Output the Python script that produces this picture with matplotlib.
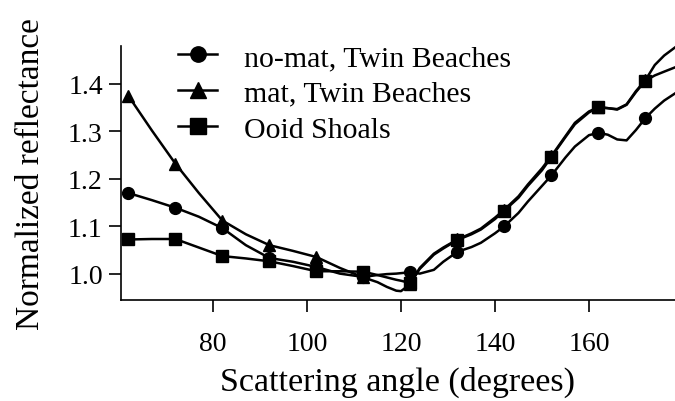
import numpy as np
import matplotlib
matplotlib.use("Agg")
import matplotlib.pyplot as plt

plt.rcParams["font.family"] = ["Liberation Serif", "DejaVu Serif"]

angle = [62, 67, 72, 77, 82, 87, 92, 97, 102, 107, 112, 115, 117, 119, 120,
         122, 124, 127, 129, 132, 135, 137, 140, 142, 145, 147, 150, 152,
         155, 157, 160, 162, 164, 166, 168, 170, 172, 174, 176, 178.3]
marker_angles = [62, 72, 82, 92, 102, 112, 122, 132, 142, 152, 162, 172]

nomat = [1.170, 1.155, 1.139, 1.120, 1.096, 1.060, 1.033, 1.025, 1.014, 1.000,
         0.993, 0.997, 0.999, 1.000, 1.001, 1.003, 1.000, 1.008, 1.025, 1.046,
         1.056, 1.065, 1.085, 1.100, 1.128, 1.152, 1.185, 1.207, 1.245, 1.268,
         1.292, 1.297, 1.293, 1.283, 1.281, 1.303, 1.328, 1.348, 1.365, 1.380]
mat = [1.375, 1.302, 1.232, 1.170, 1.112, 1.083, 1.060, 1.048, 1.035, 1.012,
       0.992, 0.982, 0.972, 0.964, 0.963, 0.978, 1.012, 1.042, 1.055, 1.072,
       1.085, 1.095, 1.118, 1.135, 1.163, 1.188, 1.222, 1.248, 1.290, 1.318,
       1.342, 1.351, 1.349, 1.347, 1.357, 1.385, 1.408, 1.440, 1.460, 1.477]
ooid = [1.072, 1.073, 1.073, 1.055, 1.037, 1.032, 1.026, 1.016, 1.005, 1.005,
        1.004, 0.997, 0.992, 0.987, 0.985, 0.980, 1.010, 1.040, 1.053, 1.071,
        1.083, 1.093, 1.115, 1.133, 1.160, 1.185, 1.218, 1.246, 1.288, 1.315,
        1.340, 1.351, 1.349, 1.346, 1.356, 1.383, 1.407, 1.418, 1.426, 1.435]

labels = ["no-mat, Twin Beaches", "mat, Twin Beaches", "Ooid Shoals"]
markers = ["o", "^", "s"]

fig = plt.figure(figsize=(6.75, 4.02), dpi=100)
ax = fig.add_axes([0.179, 0.252, 0.821, 0.631])

mark = [a in marker_angles for a in angle]
for ys, m, lbl in zip([nomat, mat, ooid], markers, labels):
    ax.plot(angle, ys, color="black", lw=1.8, marker=m, markersize=8.5,
            markevery=mark, label=lbl, clip_on=False)

ax.set_xlim(60.4, 178.3)
ax.set_ylim(0.945, 1.48)
ax.set_xticks([80, 100, 120, 140, 160])
ax.set_yticks([1.0, 1.1, 1.2, 1.3, 1.4])
ax.set_yticklabels(["1.0", "1.1", "1.2", "1.3", "1.4"])
ax.spines["top"].set_visible(False)
ax.spines["right"].set_visible(False)
for s in ("left", "bottom"):
    ax.spines[s].set_linewidth(1.2)
ax.tick_params(direction="out", length=8.5, width=1.2, labelsize=20)
ax.tick_params(axis="x", pad=14)
ax.tick_params(axis="y", pad=4.5)
ax.set_xlabel("Scattering angle (degrees)", fontsize=24.5, labelpad=7)
ax.set_ylabel("Normalized reflectance", fontsize=24, labelpad=16)

ax.legend(loc="upper left", bbox_to_anchor=(0.264, 0.888),
          bbox_transform=fig.transFigure, frameon=False, fontsize=21.5,
          handlelength=1.3, handletextpad=0.9, labelspacing=0.3,
          borderpad=0, borderaxespad=0, markerscale=1.3)

fig.savefig("out.png", dpi=100)
